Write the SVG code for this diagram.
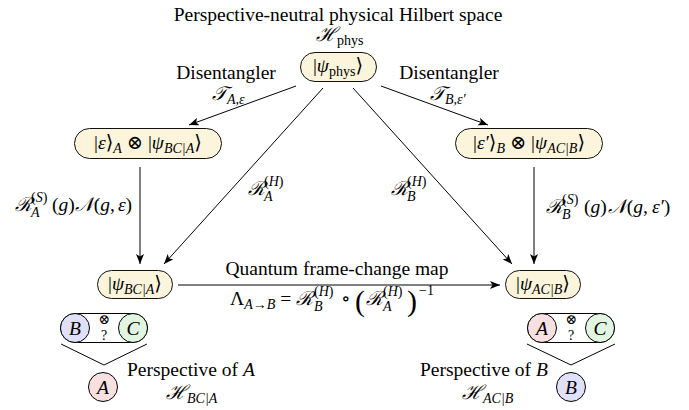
<svg xmlns="http://www.w3.org/2000/svg" width="689" height="410" viewBox="0 0 689 410">
<style>
text{font-family:"Liberation Serif","DejaVu Serif",serif;fill:#000;}
.t{font-size:19.5px;}
.m{font-size:19.5px;font-style:italic;}
.s{font-size:14px;font-style:italic;}
.r{font-size:14px;font-style:normal;}
.node{fill:#fcf5dc;stroke:#111;stroke-width:1;}
.ln{stroke:#000;stroke-width:1;fill:none;}
.arr{stroke:#000;stroke-width:1;fill:none;marker-end:url(#ah);}
.cb{fill:#e0e0f8;stroke:#000;stroke-width:1;}
.cc{fill:#e0f6e0;stroke:#000;stroke-width:1;}
.ca{fill:#f8e0e0;stroke:#000;stroke-width:1;}
.mid{text-anchor:middle;}
</style>
<defs>
<marker id="ah" markerWidth="11" markerHeight="8" refX="10" refY="4" orient="auto" markerUnits="userSpaceOnUse">
<path d="M0,0 L10,4 L0,8 L2.5,4 z" fill="#000"/>
</marker>
</defs>

<text class="t mid" x="338" y="21">Perspective-neutral physical Hilbert space</text>

<g id="connectors">
<line class="arr" x1="296" y1="86" x2="189" y2="125"/>
<line class="arr" x1="381" y1="86" x2="488" y2="125"/>
<line class="arr" x1="323" y1="88" x2="164" y2="264"/>
<line class="arr" x1="353" y1="88" x2="512" y2="264"/>
<line class="arr" x1="140" y1="167" x2="140" y2="264"/>
<line class="arr" x1="534" y1="167" x2="534" y2="264"/>
<line class="arr" x1="178" y1="285" x2="500" y2="285"/>
<text class="t mid" x="226" y="79">Disentangler</text>
<text class="m" x="212" y="100">𝒯<tspan class="s" dy="4">A,ε</tspan></text>
<text class="t mid" x="449" y="79">Disentangler</text>
<text class="m" x="430" y="100">𝒯<tspan class="s" dy="4">B,ε′</tspan></text>
<text class="m" x="248" y="195">ℛ</text>
<text class="r" x="264" y="186">(<tspan class="s">H</tspan>)</text>
<text class="s" x="264" y="201">A</text>
<text class="m" x="391" y="195">ℛ</text>
<text class="r" x="407" y="186">(<tspan class="s">H</tspan>)</text>
<text class="s" x="407" y="201">B</text>
<text class="m" x="15" y="211">ℛ</text>
<text class="r" x="31" y="202">(<tspan class="s">S</tspan>)</text>
<text class="s" x="31" y="217">A</text>
<text class="t" x="52" y="211">(<tspan class="m">g</tspan>)<tspan class="m">𝒩</tspan>(<tspan class="m">g</tspan>,<tspan class="m" dx="3">ε</tspan>)</text>
<text class="m" x="546" y="213">ℛ</text>
<text class="r" x="562" y="204">(<tspan class="s">S</tspan>)</text>
<text class="s" x="562" y="219">B</text>
<text class="t" x="584" y="213">(<tspan class="m">g</tspan>)<tspan class="m" dx="1">𝒩</tspan>(<tspan class="m">g</tspan>,<tspan class="m" dx="4">ε′</tspan>)</text>
<text class="t mid" x="337" y="275">Quantum frame-change map</text>
<text class="t" x="230" y="305">Λ<tspan class="s" dy="4">A→B</tspan><tspan dy="-4"> = </tspan><tspan class="m">ℛ</tspan></text>
<text class="r" x="314" y="296">(<tspan class="s">H</tspan>)</text>
<text class="s" x="314" y="311">B</text>
<text class="t" x="341" y="305">∘</text>
<text class="t" x="355" y="311" style="font-size:30px">(</text>
<text class="m" x="366" y="305">ℛ</text>
<text class="r" x="383" y="296">(<tspan class="s">H</tspan>)</text>
<text class="s" x="383" y="311">A</text>
<text class="t" x="407" y="311" style="font-size:30px">)</text>
<text class="r" x="419" y="295">−1</text>
</g>

<g id="phys">
<text class="m" x="316" y="41">ℋ<tspan class="r" dy="4">phys</tspan></text>
<rect class="node" x="300.5" y="52.5" width="76" height="29" rx="14.5"/>
<text class="t mid" x="338" y="72">|<tspan class="m">ψ</tspan><tspan class="r" dy="4">phys</tspan><tspan dy="-4">⟩</tspan></text>
</g>

<g id="left-disentangled">
<rect class="node" x="74.5" y="128.5" width="147" height="30" rx="15"/>
<text class="t mid" x="148" y="149">|<tspan class="m">ε</tspan>⟩<tspan class="s" dy="4">A</tspan><tspan dy="-4"> ⊗ |</tspan><tspan class="m">ψ</tspan><tspan class="s" dy="4">BC|A</tspan><tspan dy="-4">⟩</tspan></text>
</g>

<g id="right-disentangled">
<rect class="node" x="455.5" y="128.5" width="147" height="30" rx="15"/>
<text class="t mid" x="529" y="149">|<tspan class="m">ε′</tspan>⟩<tspan class="s" dy="4">B</tspan><tspan dy="-4"> ⊗ |</tspan><tspan class="m">ψ</tspan><tspan class="s" dy="4">AC|B</tspan><tspan dy="-4">⟩</tspan></text>
</g>

<g id="psi-BC-A">
<rect class="node" x="97.5" y="270.5" width="75" height="28" rx="14"/>
<text class="t mid" x="135" y="290">|<tspan class="m">ψ</tspan><tspan class="s" dy="4">BC|A</tspan><tspan dy="-4">⟩</tspan></text>
</g>

<g id="psi-AC-B">
<rect class="node" x="505.5" y="270.5" width="75" height="28" rx="14"/>
<text class="t mid" x="543" y="290">|<tspan class="m">ψ</tspan><tspan class="s" dy="4">AC|B</tspan><tspan dy="-4">⟩</tspan></text>
</g>

<g id="perspective-A">
<rect class="ln" x="60.5" y="313.5" width="87" height="29" rx="14.5"/>
<circle class="cb" cx="75" cy="328" r="14.5"/>
<circle class="cc" cx="133" cy="328" r="14.5"/>
<text class="m mid" x="75" y="335">B</text>
<text class="m mid" x="133" y="335">C</text>
<text class="r mid" x="104" y="324">⊗</text>
<text class="r mid" x="104" y="340">?</text>
<polyline class="ln" points="61,344 104,365 147,344"/>
<circle class="ca" cx="103" cy="387" r="14.5"/>
<text class="m mid" x="103" y="394">A</text>
<text class="t" x="127" y="376">Perspective of <tspan class="m">A</tspan></text>
<text class="m" x="166" y="399">ℋ<tspan class="s" dy="4">BC|A</tspan></text>
</g>

<g id="perspective-B">
<rect class="ln" x="527.5" y="313.5" width="87" height="29" rx="14.5"/>
<circle class="ca" cx="542" cy="328" r="14.5"/>
<circle class="cc" cx="600" cy="328" r="14.5"/>
<text class="m mid" x="542" y="335">A</text>
<text class="m mid" x="600" y="335">C</text>
<text class="r mid" x="571" y="324">⊗</text>
<text class="r mid" x="571" y="340">?</text>
<polyline class="ln" points="527,344 571,365 615,344"/>
<circle class="cb" cx="571" cy="387" r="14.5"/>
<text class="m mid" x="571" y="394">B</text>
<text class="t" x="420" y="376">Perspective of <tspan class="m">B</tspan></text>
<text class="m" x="462" y="399">ℋ<tspan class="s" dy="4">AC|B</tspan></text>
</g>
</svg>
